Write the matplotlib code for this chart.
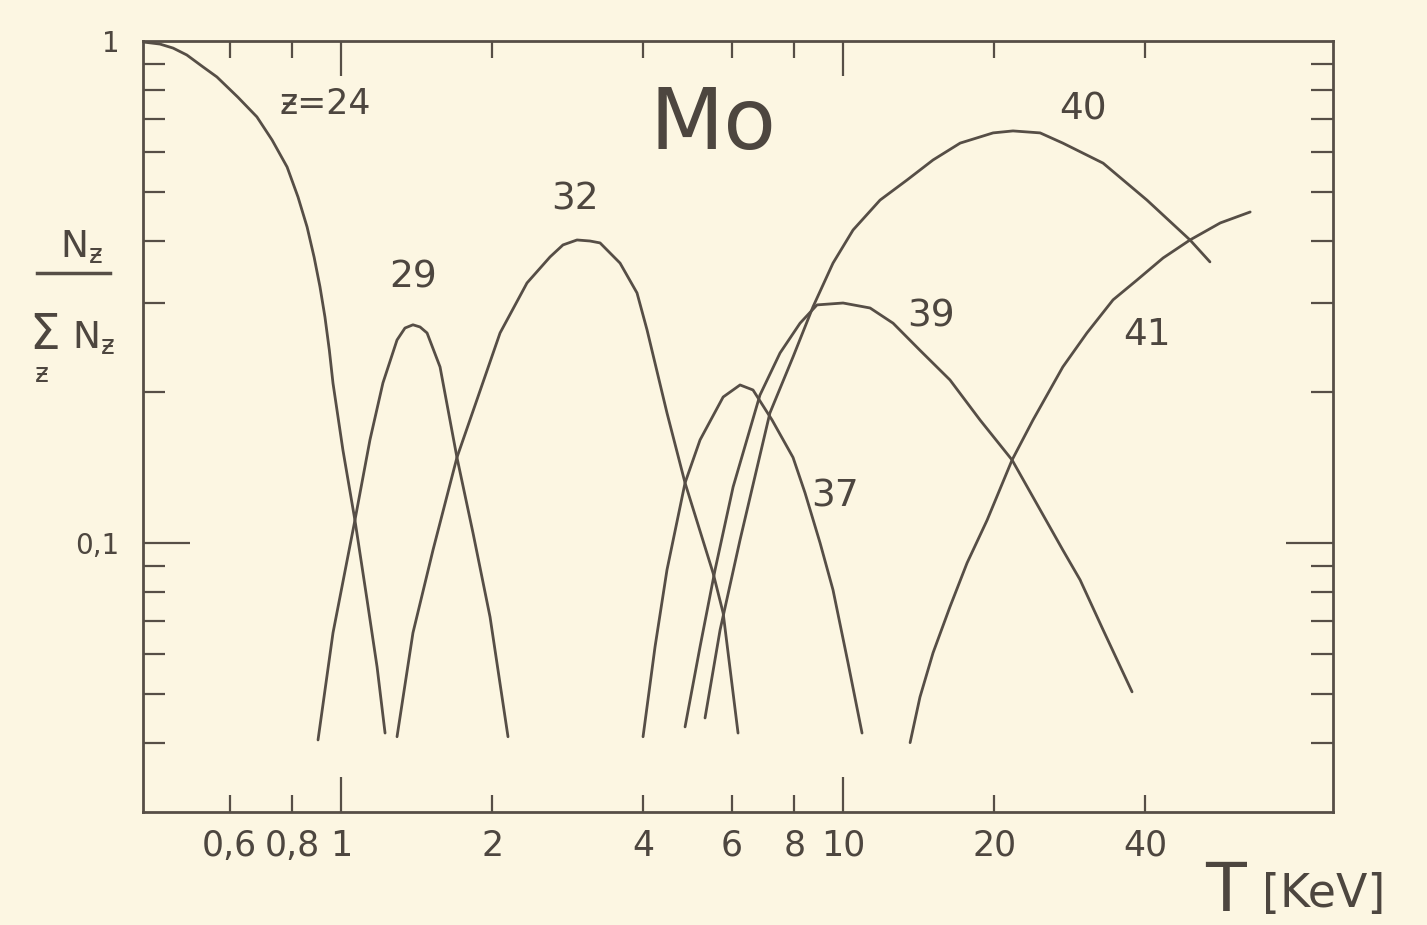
import matplotlib
matplotlib.use("Agg")
import matplotlib.pyplot as plt
from matplotlib.ticker import NullFormatter
from matplotlib.lines import Line2D

# ---------------- data ----------------
T_z24 = [0.405, 0.436, 0.463, 0.493, 0.531, 0.566, 0.623, 0.680, 0.729, 0.781, 0.821, 0.856,
         0.884, 0.908, 0.929, 0.948, 0.964, 1.009, 1.066, 1.127, 1.180, 1.224]
f_z24 = [0.995, 0.986, 0.968, 0.938, 0.888, 0.848, 0.773, 0.706, 0.635, 0.561, 0.489, 0.426,
         0.371, 0.324, 0.282, 0.242, 0.208, 0.153, 0.111, 0.077, 0.0566, 0.0418]

T_z29 = [0.900, 0.964, 1.066, 1.142, 1.212, 1.293, 1.341, 1.391, 1.437, 1.484, 1.575, 1.702, 1.832, 1.981, 2.151]
f_z29 = [0.0405, 0.0662, 0.111, 0.1604, 0.2083, 0.2537, 0.268, 0.272, 0.2693, 0.262, 0.2242, 0.148, 0.1047, 0.0712, 0.0411]

T_z32 = [1.293, 1.391, 1.525, 1.702, 1.866, 2.074, 2.347, 2.608, 2.768, 2.952, 3.133, 3.281,
         3.596, 3.887, 4.07, 4.46, 4.845, 5.51, 5.77, 6.178]
f_z32 = [0.0411, 0.0662, 0.0968, 0.148, 0.193, 0.262, 0.3296, 0.3713, 0.3924, 0.4014, 0.3995, 0.396,
         0.361, 0.3148, 0.2657, 0.1815, 0.1317, 0.0871, 0.0725, 0.0418]

T_z37 = [3.996, 4.222, 4.46, 4.845, 5.19, 5.77, 6.235, 6.617, 7.22, 7.95, 8.40, 9.0, 9.55, 10.23, 10.91]
f_z37 = [0.0411, 0.0621, 0.0884, 0.1317, 0.1604, 0.1953, 0.2064, 0.2017, 0.1758, 0.148, 0.1258, 0.100,
         0.0806, 0.0577, 0.0418]

T_z39 = [4.845, 5.19, 5.56, 6.04, 6.83, 7.49, 8.21, 8.874, 10.0, 11.32, 12.58, 14.23, 16.33,
         18.74, 21.71, 27.4, 29.66, 32.96, 37.64]
f_z39 = [0.043, 0.0621, 0.0884, 0.1293, 0.197, 0.239, 0.274, 0.298, 0.3006, 0.2938, 0.274, 0.242,
         0.2112, 0.1758, 0.1463, 0.0968, 0.0844, 0.0671, 0.0505]

T_z40 = [5.31, 5.69, 6.235, 7.15, 7.95, 8.71, 9.55, 10.47, 11.85, 13.41, 15.11, 17.11, 19.9,
         21.8, 24.69, 27.4, 32.96, 40.3, 49.1, 53.8]
f_z40 = [0.0448, 0.0671, 0.1014, 0.1815, 0.2347, 0.2952, 0.361, 0.4202, 0.482, 0.5285, 0.5794, 0.626,
         0.656, 0.662, 0.656, 0.626, 0.571, 0.482, 0.4014, 0.363]

T_z41 = [13.6, 14.23, 15.11, 16.33, 17.66, 19.36, 21.71, 23.9, 27.4, 30.6, 34.5, 38.5, 43.4, 49.1, 56.4, 64.7]
f_z41 = [0.040, 0.0493, 0.0604, 0.0746, 0.0912, 0.111, 0.1463, 0.1758, 0.2242, 0.262, 0.305, 0.334,
         0.3696, 0.4014, 0.434, 0.4564]

x_major = [1, 10]
x_major_labels = ["1", "10"]
x_minor = [0.6, 0.8, 2, 4, 6, 8, 20, 40]
x_minor_labels = ["0,6", "0,8", "2", "4", "6", "8", "20", "40"]
y_major = [0.1, 1]
y_major_labels = ["0,1", "1"]
y_minor = [0.04, 0.05, 0.06, 0.07, 0.08, 0.09, 0.2, 0.3, 0.4, 0.5, 0.6, 0.7, 0.8, 0.9]

series = [(T_z24, f_z24), (T_z29, f_z29), (T_z32, f_z32), (T_z37, f_z37),
          (T_z39, f_z39), (T_z40, f_z40), (T_z41, f_z41)]

# ---------------- style ----------------
BG = "#fcf6e2"
INK = "#564e46"
TXT = "#4d463f"
W, H = 1427, 925

fig = plt.figure(figsize=(W / 100, H / 100), dpi=100, facecolor=BG)
ax = fig.add_axes([143 / W, 1 - 812 / H, (1333 - 143) / W, (812 - 41) / H])
ax.set_facecolor(BG)

for T, f in series:
    ax.plot(T, f, color=INK, lw=2.0, solid_capstyle="round", solid_joinstyle="round")

ax.set_xscale("log")
ax.set_yscale("log")
ax.set_xlim(0.4033, 94.6)
ax.set_ylim(0.0291, 1.0)

ax.set_xticks(x_major, labels=x_major_labels)
ax.set_xticks(x_minor, labels=x_minor_labels, minor=True)
ax.set_yticks(y_major, labels=y_major_labels)
ax.set_yticks(y_minor, minor=True)
ax.yaxis.set_minor_formatter(NullFormatter())

ax.tick_params(axis="both", which="both", direction="in", colors=INK, width=1.6)
ax.tick_params(axis="x", which="both", top=True, bottom=True, labelcolor=TXT,
               labelsize=25, pad=12)
ax.tick_params(axis="x", which="major", length=25)
ax.tick_params(axis="x", which="minor", length=12)
ax.tick_params(axis="y", which="both", left=True, right=True, labelcolor=TXT,
               labelsize=20, pad=17)
ax.tick_params(axis="y", which="major", length=34)
ax.tick_params(axis="y", which="minor", length=16)

# the value 1 sits on the top spine: keep its label, hide its tick marks
top_tick = ax.yaxis.get_major_ticks()[1]
top_tick.tick1line.set_visible(False)
top_tick.tick2line.set_visible(False)

for s in ax.spines.values():
    s.set_color(INK)
    s.set_linewidth(2.0)


def fx(px):
    return px / W


def fy(py):
    return 1 - py / H


# curve labels
fig.text(fx(325), fy(104), "ƶ=24", fontsize=25, color=TXT, ha="center", va="center")
fig.text(fx(413), fy(277), "29", fontsize=27, color=TXT, ha="center", va="center")
fig.text(fx(575), fy(200), "32", fontsize=27, color=TXT, ha="center", va="center")
fig.text(fx(835), fy(497), "37", fontsize=27, color=TXT, ha="center", va="center")
fig.text(fx(931), fy(316), "39", fontsize=27, color=TXT, ha="center", va="center")
fig.text(fx(1083), fy(110), "40", fontsize=27, color=TXT, ha="center", va="center")
fig.text(fx(1147), fy(335), "41", fontsize=27, color=TXT, ha="center", va="center")
fig.text(fx(713), fy(125), "Mo", fontsize=62, color=TXT, ha="center", va="center")

# axis labels
fig.text(fx(1226), fy(892), "T", fontsize=48, color=TXT, ha="center", va="center")
fig.text(fx(1262), fy(894), "[KeV]", fontsize=33, color=TXT, ha="left", va="center")

fig.text(fx(82), fy(247), r"$\mathregular{N_{ƶ}}$", fontsize=27, color=TXT, ha="center", va="center")
fig.add_artist(Line2D([fx(37), fx(110)], [fy(273), fy(273)], color=INK, lw=2.5))
fig.text(fx(45), fy(335), "Σ", fontsize=35, color=TXT, ha="center", va="center")
fig.text(fx(42), fy(375), "ƶ", fontsize=19, color=TXT, ha="center", va="center")
fig.text(fx(94), fy(338), r"$\mathregular{N_{ƶ}}$", fontsize=27, color=TXT, ha="center", va="center")

fig.savefig("out.png", dpi=100, facecolor=BG)
